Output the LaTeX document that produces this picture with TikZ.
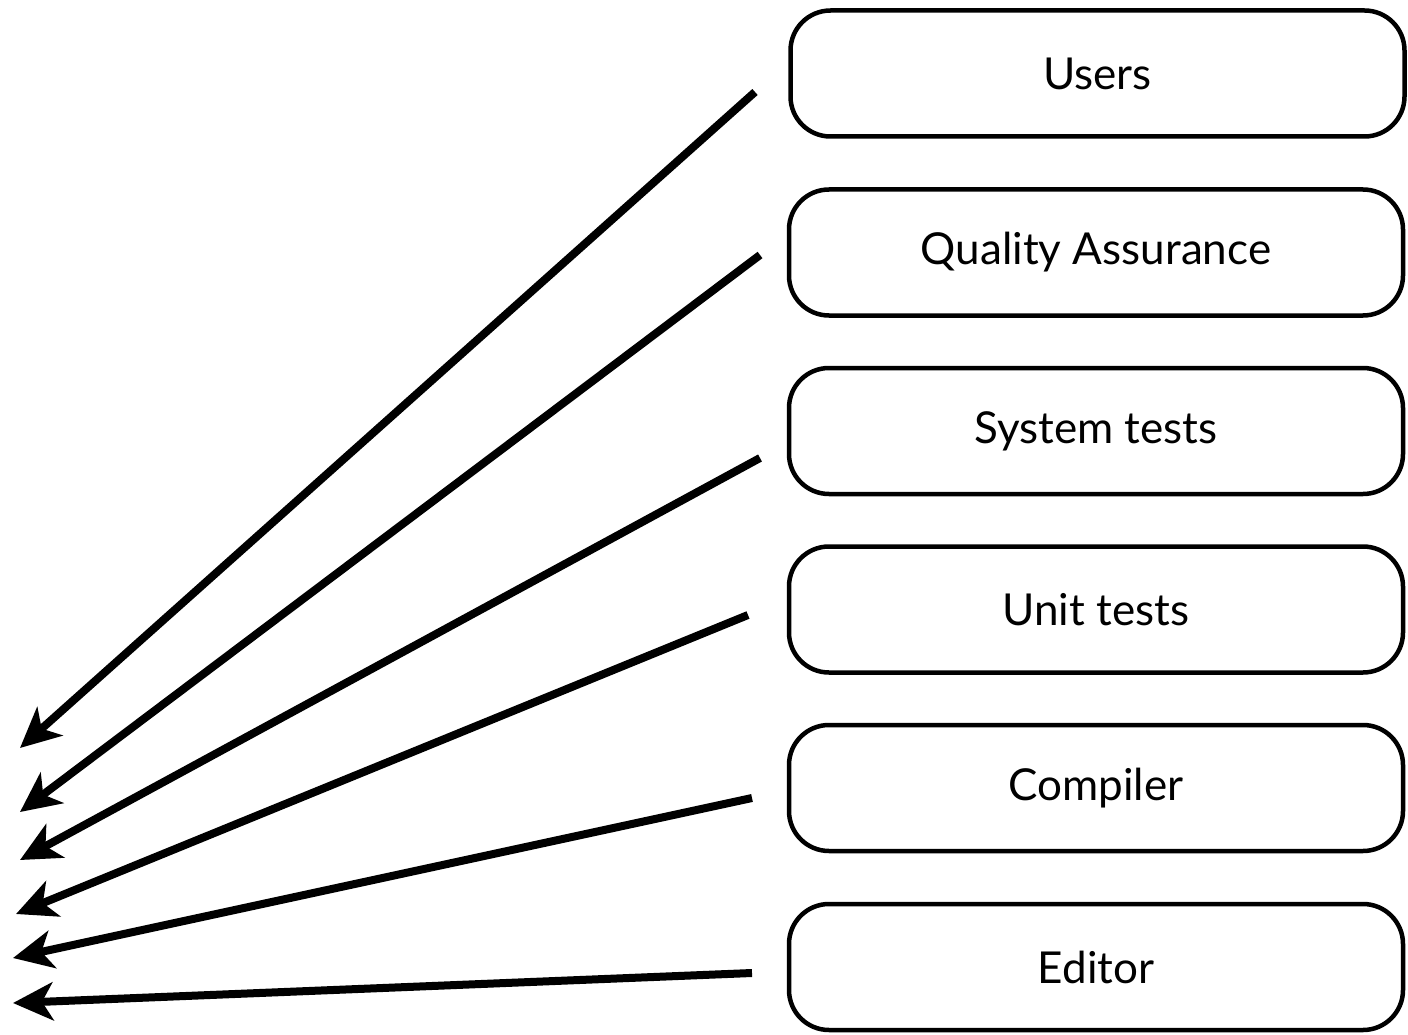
\documentclass[tikz,border=0pt]{standalone}
\usepackage{fontspec}
\setmainfont{Lato}
\usetikzlibrary{arrows.meta}
\begin{document}
\begin{tikzpicture}[x=1pt,y=-1pt,
  box/.style={draw, line width=4.5pt, rounded corners=40pt, minimum width=614pt, minimum height=126pt, inner sep=0pt, font=\fontsize{44}{52}\selectfont},
  arr/.style={line width=8pt, -{Stealth[length=40pt 0 0, width=38pt 0 0, inset=11pt]}}]
\useasboundingbox (0,0) rectangle (1408,1035);
\node[box] (users) at (1097.5,73.5) {Users};
\node[box] (qa) at (1096,252.5) {Quality Assurance};
\node[box] (sys) at (1096,431) {System tests};
\node[box] (unit) at (1096,609.5) {Unit tests};
\node[box] (comp) at (1096,788) {Compiler};
\node[box] (edit) at (1096,967) {Editor};
\coordinate (s1) at (755,92);  \coordinate (t1) at (20,748);
\coordinate (s2) at (760,255); \coordinate (t2) at (20,812);
\coordinate (s3) at (760,458); \coordinate (t3) at (20,860);
\coordinate (s4) at (748,615); \coordinate (t4) at (16,914);
\coordinate (s5) at (752,798); \coordinate (t5) at (13,958);
\coordinate (s6) at (752,973); \coordinate (t6) at (13,1003);
\foreach \i in {1,...,6} \draw[arr] (s\i) -- (t\i);
\end{tikzpicture}
\end{document}
